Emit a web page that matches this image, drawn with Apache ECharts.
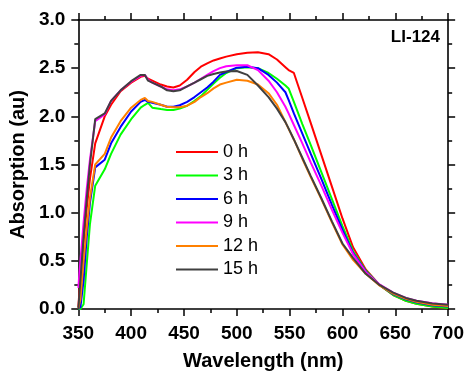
<!DOCTYPE html>
<html>
<head>
<meta charset="utf-8">
<script src="https://cdn.jsdelivr.net/npm/echarts@6/dist/echarts.min.js"></script>
<style>
html,body{margin:0;padding:0;background:#fff;}
#chart{width:467px;height:376px;}
</style>
</head>
<body>
<div id="chart"></div>
<script>
// Wavelength grid (nm)
const wavelength = [350, 352, 355, 358, 361, 366, 375, 381, 390, 400, 409, 413, 416, 420, 428, 434, 440, 446, 453, 460, 466, 472, 478, 484, 490, 500, 510, 520, 530, 538, 546, 549, 554, 562, 570, 580, 590, 600, 610, 622, 635, 648, 660, 670, 685, 700];

const abs0h  = [0.02, 0.32, 0.7, 1.05, 1.35, 1.72, 2.00, 2.12, 2.26, 2.35, 2.41, 2.42, 2.39, 2.37, 2.33, 2.31, 2.30, 2.32, 2.38, 2.46, 2.515, 2.55, 2.58, 2.60, 2.62, 2.645, 2.66, 2.665, 2.645, 2.59, 2.51, 2.48, 2.45, 2.19, 1.93, 1.60, 1.27, 0.94, 0.64, 0.41, 0.25, 0.145, 0.085, 0.055, 0.025, 0.008];
const abs3h  = [0, 0, 0.05, 0.47, 0.88, 1.28, 1.45, 1.61, 1.81, 1.97, 2.09, 2.12, 2.14, 2.09, 2.075, 2.065, 2.065, 2.08, 2.11, 2.16, 2.21, 2.275, 2.34, 2.40, 2.45, 2.50, 2.51, 2.50, 2.45, 2.39, 2.32, 2.29, 2.15, 1.92, 1.70, 1.42, 1.14, 0.86, 0.60, 0.40, 0.25, 0.145, 0.085, 0.055, 0.025, 0.01];
const abs6h  = [0, 0.02, 0.3, 0.75, 1.1, 1.47, 1.55, 1.72, 1.89, 2.05, 2.15, 2.17, 2.15, 2.14, 2.12, 2.10, 2.10, 2.115, 2.15, 2.20, 2.25, 2.30, 2.36, 2.43, 2.46, 2.505, 2.515, 2.50, 2.43, 2.35, 2.25, 2.17, 2.03, 1.82, 1.61, 1.35, 1.08, 0.82, 0.58, 0.39, 0.25, 0.155, 0.10, 0.07, 0.04, 0.025];
const abs9h  = [0.22, 0.5, 0.9, 1.25, 1.55, 1.95, 2.02, 2.16, 2.27, 2.36, 2.42, 2.43, 2.38, 2.35, 2.31, 2.28, 2.27, 2.28, 2.31, 2.35, 2.39, 2.43, 2.47, 2.50, 2.52, 2.53, 2.53, 2.48, 2.37, 2.25, 2.10, 2.03, 1.91, 1.72, 1.52, 1.28, 1.03, 0.79, 0.57, 0.385, 0.255, 0.17, 0.115, 0.085, 0.06, 0.045];
const abs12h = [0, 0.1, 0.5, 0.85, 1.15, 1.50, 1.61, 1.78, 1.95, 2.09, 2.17, 2.19, 2.16, 2.15, 2.12, 2.10, 2.095, 2.095, 2.11, 2.15, 2.20, 2.24, 2.29, 2.33, 2.35, 2.38, 2.37, 2.33, 2.24, 2.12, 1.94, 1.87, 1.76, 1.56, 1.37, 1.14, 0.90, 0.67, 0.51, 0.365, 0.245, 0.16, 0.105, 0.075, 0.045, 0.03];
const abs15h = [0, 0.3, 0.75, 1.15, 1.5, 1.97, 2.03, 2.16, 2.27, 2.365, 2.43, 2.43, 2.37, 2.35, 2.31, 2.27, 2.26, 2.27, 2.31, 2.35, 2.385, 2.42, 2.44, 2.455, 2.465, 2.47, 2.43, 2.32, 2.20, 2.08, 1.94, 1.875, 1.76, 1.57, 1.38, 1.15, 0.91, 0.68, 0.53, 0.365, 0.25, 0.17, 0.115, 0.085, 0.058, 0.043];

const seriesNames = ['0 h', '3 h', '6 h', '9 h', '12 h', '15 h'];
const seriesValues = [abs0h, abs3h, abs6h, abs9h, abs12h, abs15h];
const seriesColors = ['#ff0000', '#00ff00', '#0000ff', '#ff00ff', '#ff8000', '#404040'];

const FONT = '"Liberation Sans", Arial, sans-serif';

const chart = echarts.init(document.getElementById('chart'), null, {renderer: 'canvas'});

const axisCommon = {
  axisLine: {show: true, onZero: false, lineStyle: {color: '#000', width: 1.6}},
  axisTick: {show: true, inside: false, length: 7, lineStyle: {color: '#000', width: 1.5}},
  minorTick: {show: true, splitNumber: 2, length: 4, lineStyle: {color: '#000', width: 1.5}},
  splitLine: {show: false},
  minorSplitLine: {show: false}
};

const option = {
  animation: false,
  backgroundColor: '#fff',
  title: {
    text: 'LI-124',
    right: 22,
    top: 24,
    textStyle: {fontFamily: FONT, fontWeight: 'bold', fontSize: 17, color: '#000'}
  },
  legend: {
    orient: 'vertical',
    left: 171,
    top: 137,
    icon: 'rect',
    itemWidth: 42,
    itemHeight: 2,
    itemGap: 3.5,
    textStyle: {fontFamily: FONT, fontSize: 18, color: '#000', lineHeight: 20},
    data: seriesNames
  },
  grid: {left: 77, right: 18, top: 20, bottom: 60, containLabel: false},
  xAxis: [
    Object.assign({}, axisCommon, {
      type: 'value', min: 350, max: 700, interval: 50, position: 'bottom',
      name: 'Wavelength (nm)', nameLocation: 'middle', nameGap: 42,
      nameTextStyle: {fontFamily: FONT, fontWeight: 'bold', fontSize: 20, color: '#000'},
      axisLabel: {fontFamily: FONT, fontWeight: 'bold', fontSize: 19, color: '#000', margin: 15}
    }),
    Object.assign({}, axisCommon, {
      type: 'value', min: 350, max: 700, interval: 50, position: 'top',
      axisLabel: {show: false}
    })
  ],
  yAxis: [
    Object.assign({}, axisCommon, {
      type: 'value', min: 0, max: 3, interval: 0.5, position: 'left',
      name: 'Absorption (au)', nameLocation: 'middle', nameGap: 41,
      nameTextStyle: {fontFamily: FONT, fontWeight: 'bold', fontSize: 20, color: '#000'},
      axisLabel: {fontFamily: FONT, fontWeight: 'bold', fontSize: 19, color: '#000', margin: 13,
        formatter: v => v.toFixed(1)}
    }),
    Object.assign({}, axisCommon, {
      type: 'value', min: 0, max: 3, interval: 0.5, position: 'right',
      axisLabel: {show: false}
    })
  ],
  series: seriesNames.map((name, k) => ({
    name: name,
    type: 'line',
    xAxisIndex: 0,
    yAxisIndex: 0,
    symbol: 'none',
    smooth: false,
    color: seriesColors[k],
    lineStyle: {width: 2, color: seriesColors[k]},
    data: wavelength.map((w, i) => [w, seriesValues[k][i]])
  }))
};

chart.setOption(option);
</script>
</body>
</html>
